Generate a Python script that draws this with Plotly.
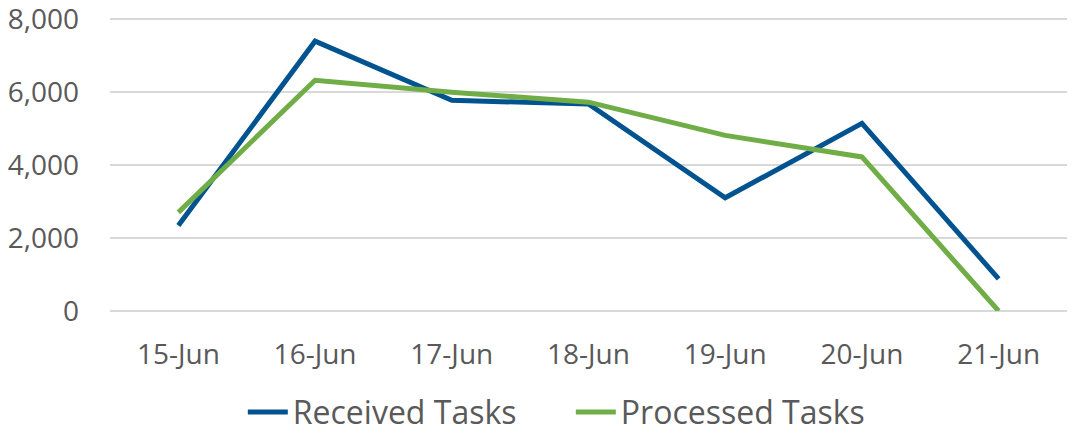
import plotly.graph_objects as go

dates = ["15-Jun", "16-Jun", "17-Jun", "18-Jun", "19-Jun", "20-Jun", "21-Jun"]
received = [2340, 7390, 5770, 5670, 3100, 5140, 880]
processed = [2700, 6320, 5990, 5720, 4810, 4220, 0]

fig = go.Figure()
fig.add_trace(go.Scatter(x=dates, y=received, mode="lines", name="Received Tasks",
                         line=dict(color="#00538F", width=5)))
fig.add_trace(go.Scatter(x=dates, y=processed, mode="lines", name="Processed Tasks",
                         line=dict(color="#70AD47", width=5)))

font = dict(family="Open Sans", size=28, color="#595959")
fig.update_layout(
    width=1070, height=425,
    margin=dict(l=102, r=11, t=8, b=121.5, autoexpand=False),
    paper_bgcolor="white", plot_bgcolor="white",
    font=font,
    showlegend=True,
    legend=dict(orientation="h", xref="container", yref="container",
                x=0.526, xanchor="center", y=0.049, yanchor="middle",
                font=dict(family="Open Sans", size=32, color="#595959"),
                itemwidth=40, tracegroupgap=0, entrywidth=273),
    xaxis=dict(type="category", showgrid=False, showline=False, ticks="", automargin=False,
               ticklabelstandoff=24, tickfont=font, range=[-0.5, 6.5]),
    yaxis=dict(range=[0, 8080], tickvals=[0, 2000, 4000, 6000, 8000], tickformat=",d",
               showgrid=True, automargin=False, ticklabeloverflow="allow",
               gridcolor="#D9D9D9", gridwidth=1.5, zeroline=True, zerolinecolor="#D9D9D9",
               zerolinewidth=1.5, showline=False, ticks="", ticklabelstandoff=30, tickfont=font),
)
fig.write_html("out.html")
